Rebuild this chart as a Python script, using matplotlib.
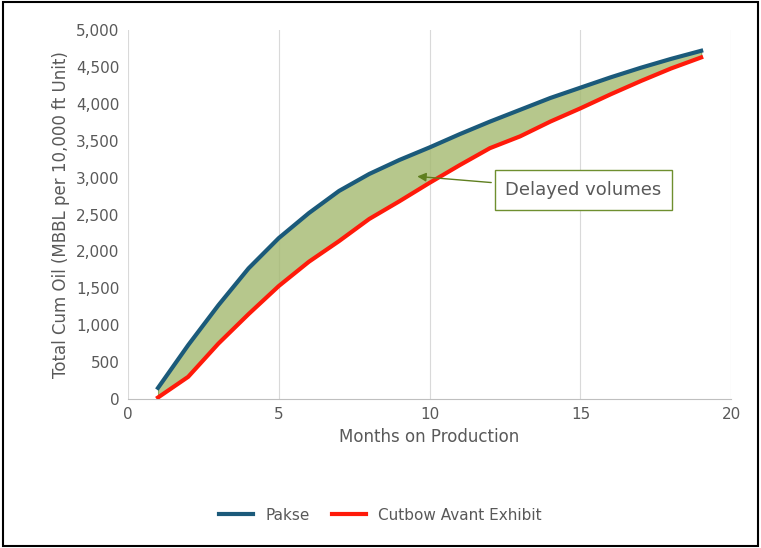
import matplotlib.pyplot as plt
from matplotlib.ticker import FuncFormatter
import numpy as np

months = list(range(1, 20))
pakse = [150, 730, 1270, 1770, 2180, 2520, 2820, 3050, 3240, 3410,
         3590, 3760, 3920, 4080, 4220, 4360, 4490, 4610, 4720]
cutbow = [20, 300, 750, 1150, 1530, 1860, 2140, 2440, 2680, 2930,
          3170, 3400, 3560, 3760, 3940, 4130, 4310, 4480, 4630]

fig = plt.figure(figsize=(7.61, 5.48), dpi=100)
ax = fig.add_axes([0.168, 0.272, 0.793, 0.673])
ax.set_axisbelow(True)

ax.fill_between(months, cutbow, pakse, color='#a4b96f', alpha=0.8,
                edgecolor='#7f9a3f', linewidth=0.8, zorder=1)
ax.plot(months, pakse, color='#1b5a7a', lw=3, label='Pakse', zorder=3)
ax.plot(months, cutbow, color='#ff1a0a', lw=3, label='Cutbow Avant Exhibit', zorder=3)

ax.set_xlim(0, 20)
ax.set_ylim(0, 5000)
ax.set_xticks([0, 5, 10, 15, 20])
ax.set_yticks(np.arange(0, 5001, 500))
ax.yaxis.set_major_formatter(FuncFormatter(lambda v, p: f'{int(v):,}'))
ax.grid(axis='x', color='#d9d9d9', lw=0.8, zorder=0)
for s in ax.spines.values():
    s.set_visible(False)
ax.spines['bottom'].set_visible(True)
ax.spines['bottom'].set_color('#bfbfbf')
ax.tick_params(length=0, labelsize=11, colors='#595959', pad=6)
ax.set_xlabel('Months on Production', fontsize=12, color='#595959')
ax.set_ylabel('Total Cum Oil (MBBL per 10,000 ft Unit)', fontsize=12, color='#595959')

ax.annotate('Delayed volumes', xy=(9.5, 3020), xytext=(15.1, 2830),
            fontsize=13, color='#595959', ha='center', va='center',
            bbox=dict(boxstyle='square,pad=0.6', fc='white', ec='#6f8f2f', lw=1),
            arrowprops=dict(arrowstyle='-|>', color='#5f7f1f', lw=1), zorder=5)

fig.legend(loc='center', bbox_to_anchor=(0.5, 0.06), ncol=2, frameon=False,
           fontsize=11, labelcolor='#595959', handlelength=2.2, columnspacing=1.5)

fig.patches.append(plt.Rectangle((0.004, 0.004), 0.992, 0.992, transform=fig.transFigure,
                                 fill=False, ec='black', lw=1.5))
fig.savefig('out.png', dpi=100)
